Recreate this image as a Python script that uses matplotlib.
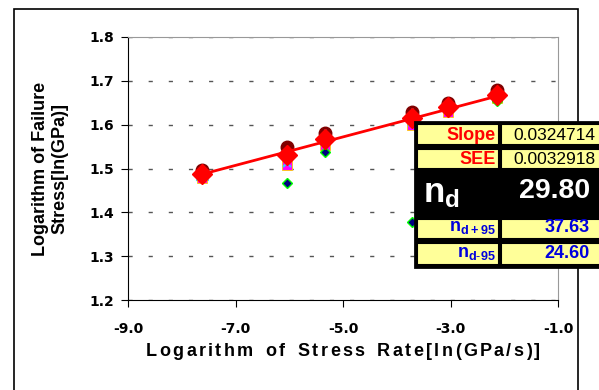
import numpy as np
import matplotlib.pyplot as plt
from matplotlib.patches import Rectangle

plt.rcParams['font.family'] = ['Liberation Sans', 'DejaVu Sans']
plt.rcParams['mathtext.fontset'] = 'custom'
plt.rcParams['mathtext.rm'] = 'Liberation Sans'
plt.rcParams['mathtext.bf'] = 'Liberation Sans:bold'

# log stress rate for each test group
log_rate = [-7.62, -6.04, -5.34, -3.72, -3.05, -2.13]

# log failure stress, one list per specimen set
spec_a = [1.497, 1.549, 1.581, 1.629, 1.649, 1.680]
spec_b = [1.488, 1.535, 1.577, 1.624, 1.645, 1.674]
spec_c = [1.478, 1.508, 1.554, 1.600, 1.630, 1.660]
spec_d = [1.482, 1.512, 1.560, 1.605, 1.635, 1.663]
spec_e = [1.485, 1.467, 1.538, 1.378, 1.637, 1.655]
mean_stress = [1.487, 1.531, 1.567, 1.615, 1.640, 1.668]

slope = 0.0324714
intercept = 1.7344
see = 0.0032918
n_d = 1.0 / slope - 1.0
n_d_hi = 37.63
n_d_lo = 24.60

x_title = 'Logarithm of Stress Rate[ln(GPa/s)]'
y_title = 'Logarithm of Failure\nStress[ln(GPa)]'

W, H = 599.0, 390.0
fig = plt.figure(figsize=(5.99, 3.9), dpi=100)
ax = fig.add_axes([128/W, 90/H, 430/W, 263/H])

ax.plot(log_rate, spec_a, 'o', color='#800000', ms=9, ls='none', zorder=3)
ax.plot(log_rate, spec_b, '^', color='#33ccff', ms=8, ls='none', zorder=3)
ax.plot(log_rate, spec_c, 's', color='#ff00ff', mec='#ffcc00', mew=0.6, ms=7, ls='none', zorder=3)
ax.plot(log_rate, spec_d, 'x', color='#33ccff', ms=6, mew=1.5, ls='none', zorder=4)
ax.plot(log_rate, spec_e, 'D', color='#000080', mec='#00ff00', mew=1.0, ms=5, ls='none', zorder=4)

xf = np.array([log_rate[0], log_rate[-1]])
ax.plot(xf, intercept + slope * xf, color='red', lw=2, zorder=5)
ax.plot(log_rate, mean_stress, 'D', color='red', ms=10.5, ls='none', zorder=6)

ax.set_xlim(-9, -1)
ax.set_ylim(1.2, 1.8)
xt = np.arange(-9, 0, 2)
yt = np.arange(1.2, 1.81, 0.1)
ax.set_xticks(xt)
ax.set_xticklabels([f'{v:.1f}' for v in xt])
ax.set_yticks(yt)
ax.set_yticklabels([f'{v:.1f}' for v in yt])
ax.tick_params(length=5, direction='out')
ax.tick_params(axis='x', pad=11)
ax.tick_params(axis='y', pad=5)
for lab in ax.get_xticklabels() + ax.get_yticklabels():
    lab.set_fontweight('bold')
    lab.set_fontfamily('DejaVu Sans')
    lab.set_fontsize(10)
ax.yaxis.grid(True, color='#555555', ls=(0, (3, 11.5)), lw=1)
ax.set_axisbelow(True)
for s in ['top', 'right']:
    ax.spines[s].set_color('#999999')
ax.set_ylabel(y_title, fontsize=13, fontweight='bold', labelpad=15)

# x title drawn letter by letter with wide tracking
renderer = fig.canvas.get_renderer()
parts = []
for ch in x_title:
    t = fig.text(0, 1 - 352/H, ch, fontsize=13, fontweight='bold', va='center')
    w = 8.0 if ch == ' ' else t.get_window_extent(renderer).width
    parts.append((t, w))
span = 394.0
gap = (span - sum(w for _, w in parts)) / (len(parts) - 1)
xpos = 343.0 - span / 2
for t, w in parts:
    t.set_x(xpos / W)
    xpos += w + gap

# outer chart frame
fig.patches.append(Rectangle((14/W, -0.1), 564/W, 1.1 - 9/H,
                             transform=fig.transFigure, fill=False,
                             ec='black', lw=1.2))

# results table
def cell(x0, y0, x1, y1, fc):
    fig.patches.append(Rectangle((x0/W, 1 - y1/H), (x1 - x0)/W, (y1 - y0)/H,
                                 transform=fig.transFigure, fc=fc, ec='black',
                                 lw=1.5, zorder=10))

rows = [122, 147, 171, 217, 241, 267]
xl, xm, xr = 415, 500, 640
fig.patches.append(Rectangle((xl/W, 1 - rows[-1]/H), (xr - xl)/W, (rows[-1] - rows[0])/H,
                             transform=fig.transFigure, fc='black', ec='black',
                             lw=2, zorder=9))
for i in range(5):
    fc = 'black' if i == 2 else '#ffff99'
    cell(xl + 2, rows[i] + 2, xm - 1, rows[i + 1] - 2, fc)
    cell(xm + 1, rows[i] + 2, xr, rows[i + 1] - 2, fc)

def put(x, y, s, **kw):
    fig.text(x/W, 1 - y/H, s, zorder=11, va='center', **kw)

put(496, 135, 'Slope', ha='right', color='red', fontsize=13, fontweight='bold')
put(496, 159, 'SEE', ha='right', color='red', fontsize=13, fontweight='bold')
put(513, 135, f'{slope:.7f}', ha='left', color='black', fontsize=12.5)
put(513, 159, f'{see:.7f}', ha='left', color='black', fontsize=12.5)
put(423, 194, r'$\mathbf{n_d}$', ha='left', color='white', fontsize=25)
put(590, 191, f'{n_d:.2f}', ha='right', color='white', fontsize=20.5, fontweight='bold')
put(496, 228, r'$\mathbf{n_{d+95}}$', ha='right', color='#0000dd', fontsize=13)
put(496, 253, r'$\mathbf{n_{d\text{-}95}}$', ha='right', color='#0000dd', fontsize=13)
put(590, 228, f'{n_d_hi:.2f}', ha='right', color='#0000dd', fontsize=13, fontweight='bold')
put(590, 253, f'{n_d_lo:.2f}', ha='right', color='#0000dd', fontsize=13, fontweight='bold')

fig.savefig('out.png', dpi=100)
